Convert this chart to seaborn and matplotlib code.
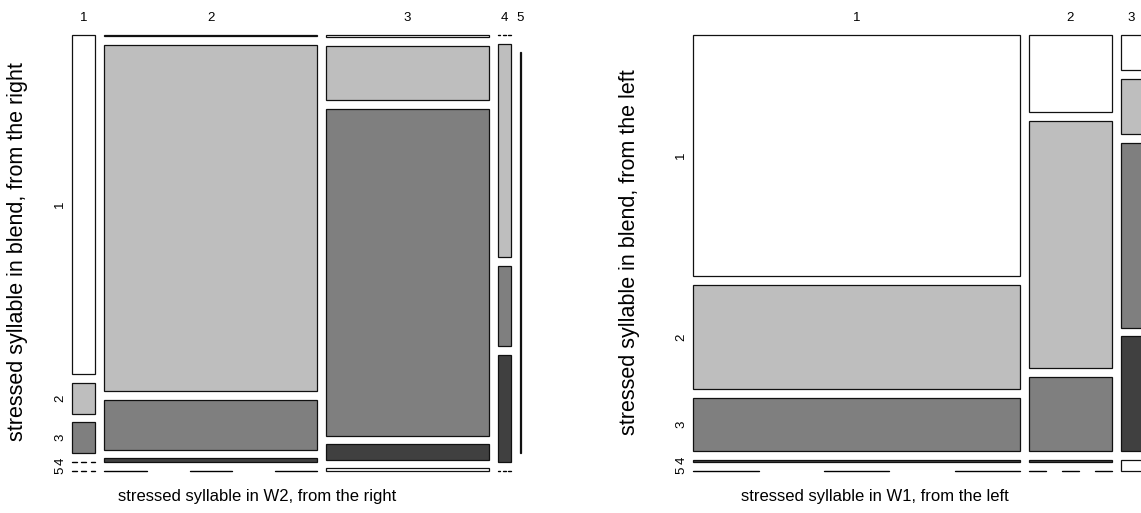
import matplotlib
matplotlib.use("Agg")
import matplotlib.pyplot as plt
import seaborn as sns

# ---------------- data ----------------
levels = ["1", "2", "3", "4", "5"]

# left panel: columns = stressed syllable in W2 (from the right),
# each list = counts for blend stress 1..5 (from the right)
left_w2_1 = [22, 2, 2, 0, 0]
left_w2_2 = [0.7, 209, 30, 2, 0]
left_w2_3 = [1, 25, 150, 7, 1]
left_w2_4 = [0, 8, 3, 4, 0]
left_w2_5 = [0, 0, 1, 0, 0]
left_cols = ["1", "2", "3", "4", "5"]

# right panel: columns = stressed syllable in W1 (from the left),
# each list = counts for blend stress 1..5 (from the left)
right_w1_1 = [214, 93, 47, 2, 0]
right_w1_2 = [17.4, 55.4, 16.8, 0.4, 0]
right_w1_3 = [2, 3.2, 10.6, 6.6, 0.6]
right_cols = ["1", "2", "3"]

xlab_left = "stressed syllable in W2, from the right"
ylab_left = "stressed syllable in blend, from the right"
xlab_right = "stressed syllable in W1, from the left"
ylab_right = "stressed syllable in blend, from the left"

row_colors = ["#FFFFFF", "#BEBEBE", "#7F7F7F", "#404040", "#FFFFFF"]

# ---------------- style ----------------
sns.set_style("white")
plt.rcParams["font.family"] = ["Liberation Sans", "DejaVu Sans"]
plt.rcParams["text.color"] = "black"

W, H = 1141, 513
fig = plt.figure(figsize=(W / 100, H / 100), dpi=100)

SPAN_W = 448.5   # mosaic width in px
SPAN_H = 435.5   # mosaic height in px
TOP = 35.0


def make_ax(x0):
    ax = fig.add_axes([x0 / W, (H - TOP - SPAN_H) / H, SPAN_W / W, SPAN_H / H])
    ax.set_xlim(0, 1)
    ax.set_ylim(1, 0)
    ax.axis("off")
    return ax


def mosaic(ax, columns, col_labels):
    nx = len(columns)
    col_tot = [sum(c) for c in columns]
    N = sum(col_tot)
    offx = 0.02 * (nx - 1)
    gx = 0.02
    px_x = 1.0 / SPAN_W
    px_y = 1.0 / SPAN_H
    x = 0.0
    first_rows = None
    for i, col in enumerate(columns):
        w = (1 - offx) * col_tot[i] / N
        ny = len(col)
        offy = 0.02 * (ny - 1)
        y = 0.0
        centers = []
        for j, v in enumerate(col):
            h = (1 - offy) * v / col_tot[i]
            if v > 0:
                ax.bar(x, h, width=w, bottom=y, align="edge",
                       color=row_colors[j], edgecolor="#111111",
                       linewidth=0.9, clip_on=False)
            else:
                for k in range(3):
                    xa = x + 2 * k * w / 5
                    xb = x + (2 * k + 1) * w / 5
                    ax.plot([xa, xb], [y, y], color="black", lw=1.0,
                            solid_capstyle="round", clip_on=False)
            centers.append(y + h / 2)
            y += h + 0.02
        if first_rows is None:
            first_rows = centers
        ax.text(x + w / 2, -17 * px_y, col_labels[i], ha="center",
                va="center", fontsize=9.5, clip_on=False)
        x += w + gx
    for j, yc in enumerate(first_rows):
        ax.text(-12 * px_x, yc, levels[j], rotation=90, ha="center",
                va="center", fontsize=9.5, clip_on=False)


axL = make_ax(72.3)
mosaic(axL, [left_w2_1, left_w2_2, left_w2_3, left_w2_4, left_w2_5], left_cols)

axR = make_ax(693.3)
mosaic(axR, [right_w1_1, right_w1_2, right_w1_3], right_cols)

fig.text(257 / W, 1 - 496 / H, xlab_left, ha="center", va="center", fontsize=12)
fig.text(875 / W, 1 - 496 / H, xlab_right, ha="center", va="center", fontsize=12)
fig.text(18 / W, 1 - 252 / H, ylab_left, ha="center", va="center",
         rotation=90, fontsize=15.5)
fig.text(630 / W, 1 - 252 / H, ylab_right, ha="center", va="center",
         rotation=90, fontsize=15.5)

fig.savefig("out.png", dpi=100)
